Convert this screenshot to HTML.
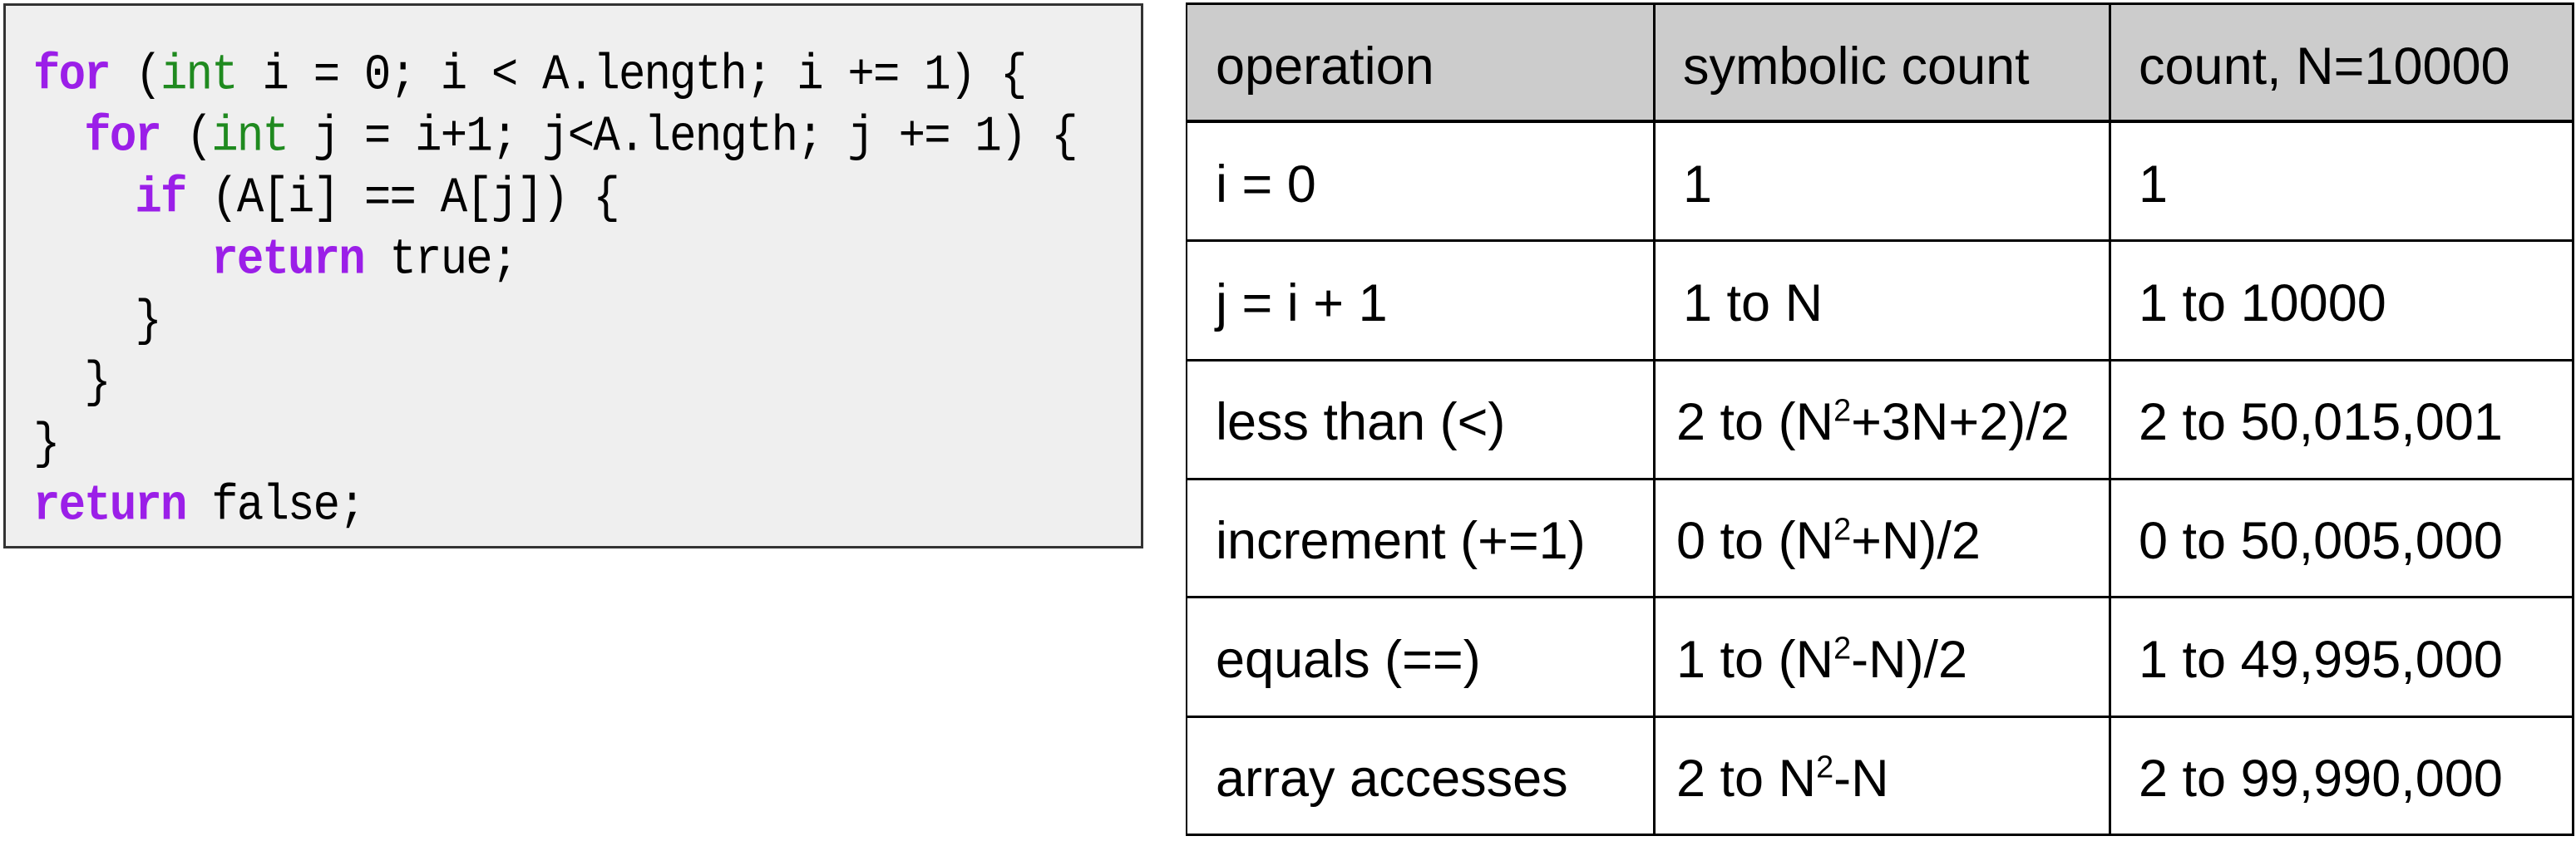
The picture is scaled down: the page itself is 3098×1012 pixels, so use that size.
<!DOCTYPE html>
<html><head><meta charset="utf-8"><style>
body{margin:0;width:3098px;height:1012px;background:#fff;position:relative;overflow:hidden}
#code{position:absolute;left:4px;top:4px;width:1365px;height:650px;background:#efefef;border:3px solid #333;box-sizing:content-box}
.cl{position:absolute;left:33px;font-family:"Liberation Mono",monospace;font-size:54px;letter-spacing:-1.8px;white-space:pre;color:#000;line-height:60px;transform:scaleY(1.12);transform-origin:0 50%}
.k{color:#9b1fe8;font-weight:bold}.g{color:#1f8a1f}
.t{position:absolute;font-family:"Liberation Sans",sans-serif;font-size:63px;color:#000;white-space:nowrap;line-height:70px}
.h{position:absolute;background:#000}
sup{font-size:0.6em;vertical-align:0.6em;line-height:0}
</style></head><body>
<div id="code">
<div class="cl" style="top:55px"><span class="k">for</span> (<span class="g">int</span> i = 0; i &lt; A.length; i += 1) {</div>
<div class="cl" style="top:129px">  <span class="k">for</span> (<span class="g">int</span> j = i+1; j&lt;A.length; j += 1) {</div>
<div class="cl" style="top:203px">    <span class="k">if</span> (A[i] == A[j]) {</div>
<div class="cl" style="top:277px">       <span class="k">return</span> true;</div>
<div class="cl" style="top:351px">    }</div>
<div class="cl" style="top:425px">  }</div>
<div class="cl" style="top:499px">}</div>
<div class="cl" style="top:573px"><span class="k">return</span> false;</div>
</div>
<div style="position:absolute;left:1427px;top:4px;width:1667px;height:142px;background:#ccc"></div>
<div class="h" style="left:1426px;top:3px;width:2px;height:1003px"></div>
<div class="h" style="left:1988px;top:3px;width:3px;height:1003px"></div>
<div class="h" style="left:2536px;top:3px;width:3px;height:1003px"></div>
<div class="h" style="left:3093px;top:3px;width:3px;height:1003px"></div>
<div class="h" style="left:1426px;top:3px;width:1670px;height:3px"></div>
<div class="h" style="left:1426px;top:144px;width:1670px;height:4px"></div>
<div class="h" style="left:1426px;top:288px;width:1670px;height:3px"></div>
<div class="h" style="left:1426px;top:432px;width:1670px;height:3px"></div>
<div class="h" style="left:1426px;top:575px;width:1670px;height:3px"></div>
<div class="h" style="left:1426px;top:717px;width:1670px;height:3px"></div>
<div class="h" style="left:1426px;top:861px;width:1670px;height:3px"></div>
<div class="h" style="left:1426px;top:1003px;width:1670px;height:3px"></div>

<div class="t" style="left:1462px;top:45px">operation</div>
<div class="t" style="left:2024px;top:45px">symbolic count</div>
<div class="t" style="left:2572px;top:45px">count, N=10000</div>

<div class="t" style="left:1462px;top:187px">i = 0</div>
<div class="t" style="left:2024px;top:187px">1</div>
<div class="t" style="left:2572px;top:187px">1</div>

<div class="t" style="left:1462px;top:330px">j = i + 1</div>
<div class="t" style="left:2024px;top:330px">1 to N</div>
<div class="t" style="left:2572px;top:330px">1 to 10000</div>

<div class="t" style="left:1462px;top:473px">less than (&lt;)</div>
<div class="t" style="left:2016px;top:473px">2 to (N<sup>2</sup>+3N+2)/2</div>
<div class="t" style="left:2572px;top:473px">2 to 50,015,001</div>

<div class="t" style="left:1462px;top:616px">increment (+=1)</div>
<div class="t" style="left:2016px;top:616px">0 to (N<sup>2</sup>+N)/2</div>
<div class="t" style="left:2572px;top:616px">0 to 50,005,000</div>

<div class="t" style="left:1462px;top:759px">equals (==)</div>
<div class="t" style="left:2016px;top:759px">1 to (N<sup>2</sup>-N)/2</div>
<div class="t" style="left:2572px;top:759px">1 to 49,995,000</div>

<div class="t" style="left:1462px;top:902px">array accesses</div>
<div class="t" style="left:2016px;top:902px">2 to N<sup>2</sup>-N</div>
<div class="t" style="left:2572px;top:902px">2 to 99,990,000</div>
</body></html>
